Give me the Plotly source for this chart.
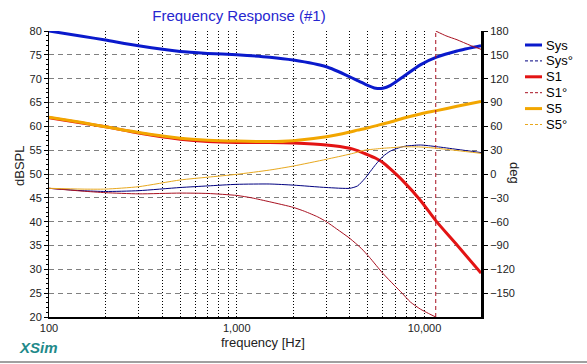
import plotly.graph_objects as go

# ---------------- data ----------------
freq = [100, 150, 200, 300, 500, 700, 1000, 1500, 2000, 3000, 4000, 4400,
        4800, 5500, 6000, 6600, 7700, 9500, 11600, 14900, 20000]

sys_db = [80.0, 78.9, 78.1, 76.9, 75.7, 75.3, 75.0, 74.5, 73.9, 72.5, 70.4, 69.6,
          68.9, 68.0, 68.0, 68.6, 70.4, 72.9, 74.5, 75.8, 76.9]
s1_db = [61.8, 60.7, 59.9, 58.6, 57.3, 56.8, 56.6, 56.6, 56.5, 56.1, 55.4, 54.9,
         54.3, 53.3, 52.4, 51.0, 48.5, 44.5, 40.0, 35.1, 29.2]
s5_db = [61.9, 60.8, 59.9, 58.7, 57.5, 57.1, 56.9, 56.8, 57.0, 57.8, 58.8, 59.2,
         59.5, 60.1, 60.5, 60.9, 61.7, 62.6, 63.3, 64.2, 65.2]

sys_deg = [-18, -21, -22, -21, -17, -15, -13, -12.6, -14, -17, -18, -15,
           -6, 12, 22, 29, 34.5, 36.5, 34.4, 31, 27]
s5_deg = [-18, -19, -19, -16, -7.5, -4, -0.4, 5, 10, 18.5, 25, 27.5,
          30, 31.5, 32.4, 33, 34.2, 34, 32.4, 29.5, 26]

# S1 phase wraps from -180 to +180 near 11.5 kHz
s1_deg_freq = [100, 150, 200, 300, 500, 700, 1000, 1200, 1500, 2000, 2300, 2700, 3000,
               3400, 4000, 4600, 5100, 6000, 6900, 7600, 8400, 9500, 10500, 11480,
               11480, 11480, 13000, 14900, 17500, 20000]
s1_deg = [-18, -21.5, -23.5, -25, -24, -24.5, -27, -30, -35, -42, -47, -54, -60,
          -69, -81, -93.5, -105, -125, -140, -150, -161, -170, -175.5, -180,
          None, 180, 174, 169, 162, 157]
s1_wrap_freq = 11480

x_grid = [100, 200, 300, 400, 500, 600, 700, 800, 900,
          1000, 2000, 3000, 4000, 5000, 6000, 7000, 8000, 9000, 10000, 20000]
x_labels = {100: "100", 1000: "1,000", 10000: "10,000"}

db_ticks = [20, 25, 30, 35, 40, 45, 50, 55, 60, 65, 70, 75, 80]
deg_ticks = [180, 150, 120, 90, 60, 30, 0, -30, -60, -90, -120, -150]

legend_names = ["Sys", "Sys°", "S1", "S1°", "S5", "S5°"]

# ---------------- styles ----------------
C_SYS = "#0A1ACC"
C_SYS_P = "#000080"
C_S1 = "#E31414"
C_S1_P = "#A81020"
C_S5 = "#F2A600"
C_S5_P = "#E8A81E"
FONT = "Liberation Sans, Arial, sans-serif"

L, T, PW, PH = 49, 31, 432, 286  # plot area in px


def px(x):
    return (x - L) / PW


def py(y):
    return (T + PH - y) / PH


fig = go.Figure()

SPL = dict(shape="spline", smoothing=0.6)

# phase curves (thin)
fig.add_trace(go.Scatter(x=freq, y=sys_deg, yaxis="y2", mode="lines", name="Sys°",
                         line=dict(color=C_SYS_P, width=1, **SPL)))
fig.add_trace(go.Scatter(x=s1_deg_freq, y=s1_deg, yaxis="y2", mode="lines", name="S1°",
                         line=dict(color=C_S1_P, width=1, **SPL), connectgaps=False))
fig.add_trace(go.Scatter(x=[s1_wrap_freq, s1_wrap_freq], y=[-180, 180], yaxis="y2", mode="lines",
                         name="S1° wrap", line=dict(color=C_S1_P, width=1, dash="4px,3px")))
fig.add_trace(go.Scatter(x=freq, y=s5_deg, yaxis="y2", mode="lines", name="S5°",
                         line=dict(color=C_S5_P, width=1, **SPL)))

# magnitude curves (thick)
fig.add_trace(go.Scatter(x=freq, y=s1_db, mode="lines", name="S1",
                         line=dict(color=C_S1, width=3, **SPL)))
fig.add_trace(go.Scatter(x=freq, y=s5_db, mode="lines", name="S5",
                         line=dict(color=C_S5, width=3, **SPL)))
fig.add_trace(go.Scatter(x=freq, y=sys_db, mode="lines", name="Sys",
                         line=dict(color=C_SYS, width=3, **SPL)))

# ---------------- legend (compact, drawn beside the plot like XSim) ----------------
legend_styles = [(C_SYS, 3, "solid"), (C_SYS_P, 1, "3px,2px"), (C_S1, 3, "solid"),
                 (C_S1_P, 1, "3px,2px"), (C_S5, 3, "solid"), (C_S5_P, 1, "3px,2px")]
annotations = []
shapes = []
for i, (nm, (col, w, dash)) in enumerate(zip(legend_names, legend_styles)):
    yrow = 45 + i * 15.9
    shapes.append(dict(type="line", xref="paper", yref="paper", x0=px(525), x1=px(542),
                       y0=py(yrow), y1=py(yrow), line=dict(color=col, width=w, dash=dash)))
    annotations.append(dict(text=nm, xref="paper", yref="paper", x=px(544), y=py(yrow),
                            showarrow=False, xanchor="left", yanchor="middle",
                            font=dict(family=FONT, size=13, color="#000000")))

annotations += [
    dict(text="dBSPL", xref="paper", yref="paper", x=px(20), y=py(166),
         textangle=-90, showarrow=False, xanchor="center", yanchor="middle",
         font=dict(family=FONT, size=13, color="#222222")),
    dict(text="deg", xref="paper", yref="paper", x=px(515), y=py(173),
         textangle=90, showarrow=False, xanchor="center", yanchor="middle",
         font=dict(family=FONT, size=13, color="#222222")),
    dict(text="frequency [Hz]", xref="paper", yref="paper", x=px(263), y=py(342),
         showarrow=False, xanchor="center", yanchor="middle",
         font=dict(family=FONT, size=13, color="#222222")),
    dict(text="<b><i>XSim</i></b>", xref="paper", yref="paper", x=px(17), y=py(347),
         showarrow=False, xanchor="left", yanchor="middle",
         font=dict(family=FONT, size=15, color="#1F8A8A")),
]
shapes.append(dict(type="line", xref="paper", yref="paper", x0=px(0), x1=px(587),
                   y0=py(362), y1=py(362), line=dict(color="#A0A0A0", width=2)))

fig.update_layout(
    width=587, height=364,
    margin=dict(l=L, r=587 - L - PW, t=T, b=364 - T - PH, pad=0),
    paper_bgcolor="white", plot_bgcolor="white",
    font=dict(family=FONT, size=11, color="#222222"),
    showlegend=False,
    title=dict(text="Frequency Response (#1)", x=239 / 587, xref="container", xanchor="center",
               y=1 - 16 / 364, yref="container", yanchor="middle",
               font=dict(family=FONT, size=15, color="#2626D0")),
    xaxis=dict(type="log", range=[2, 4.30103],
               tickvals=x_grid, ticktext=[x_labels.get(v, "") for v in x_grid],
               ticks="", showgrid=True, gridcolor="#000000", griddash="1px,2px", gridwidth=1,
               showline=True, linecolor="#000000", linewidth=2, tickangle=0,
               tickfont=dict(size=11, color="#222222")),
    yaxis=dict(range=[20, 80], tickvals=db_ticks, ticks="outside", ticklen=4, tickcolor="#000000",
               showgrid=True, gridcolor="#808080", griddash="5px,4px", gridwidth=1,
               zeroline=False, showline=True, linecolor="#000000", linewidth=1,
               minor=dict(dtick=1, ticks="outside", ticklen=2, tickcolor="#000000", showgrid=False)),
    yaxis2=dict(range=[-180, 180], overlaying="y", side="right", tickvals=deg_ticks,
                ticks="outside", ticklen=4, tickcolor="#000000", showgrid=False, zeroline=False,
                showline=True, linecolor="#000000", linewidth=3),
    annotations=annotations,
    shapes=shapes,
)

fig.write_html("out.html", config={"displayModeBar": False},
               post_script="document.body.style.margin='0';")
